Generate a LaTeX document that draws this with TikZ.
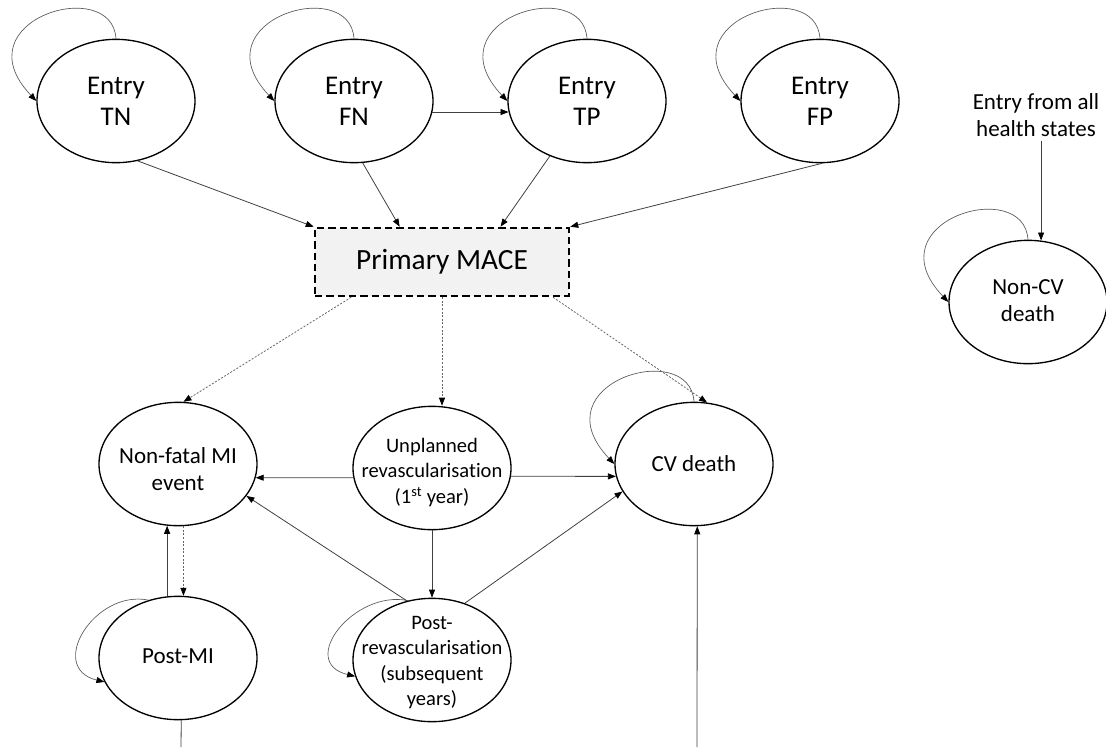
\documentclass[tikz,border=0pt]{standalone}
\usepackage{fontspec}
\setmainfont{Carlito}[Ligatures=NoCommon]
\usetikzlibrary{arrows.meta}
\usetikzlibrary{shapes.geometric}
\usetikzlibrary{calc}

\definecolor{macefill}{RGB}{242,242,242}
\tikzset{
  hstate/.style={ellipse, draw=black, line width=1pt, minimum width=118.5pt, minimum height=92.5pt, inner sep=0pt},
  entrytext/.style={align=center, inner sep=0pt, font=\fontsize{20.25}{23.25}\selectfont},
  midtext/.style={align=center, inner sep=0pt, font=\fontsize{17.25}{20.25}\selectfont},
  smalltext/.style={align=center, inner sep=0pt, font=\fontsize{15.4}{19.1}\selectfont},
  macebox/.style={draw=black, line width=1.9pt, dash pattern=on 5.5pt off 3pt, fill=macefill, minimum width=190.5pt, minimum height=51pt, font=\fontsize{22}{26}\selectfont},
  link/.style={draw=black!75, line width=0.6pt},
  conn/.style={link, -{Triangle[length=6pt,width=4.5pt,color=black]}},
  dotconn/.style={conn, draw=black!60, dash pattern=on 1.5pt off 1.2pt},
  selfloop/.style={conn, draw=black!65, line width=0.5pt}
}

\begin{document}
\begin{tikzpicture}[x=0.75pt,y=0.75pt,yscale=-1,xscale=1]
\useasboundingbox (0,0) rectangle (1106,747);

%Shape: Ellipse [entry states]
\node[hstate] (tn) at (116,101) {};
\node[hstate] (fn) at (354,101) {};
\node[hstate] (tp) at (587,101) {};
\node[hstate] (fp) at (820,101) {};
%Shape: Rectangle [primary MACE]
\node[macebox] (mace) at (442,262) {Primary MACE};
%Shape: Ellipse [event states]
\node[hstate] (nfmi) at (178,464) {};
\node[hstate] (urev) at (432,468) {};
\node[hstate] (cv) at (694,464) {};
\node[hstate] (pmi) at (178,658) {};
\node[hstate] (prev) at (432,660) {};
\node[hstate] (ncv) at (1028,302) {};

% Text Node
\node[entrytext] (tn-t) at (tn) {Entry\\TN};
\node[entrytext] (fn-t) at (fn) {Entry\\FN};
\node[entrytext] (tp-t) at (tp) {Entry\\TP};
\node[entrytext] (fp-t) at (fp) {Entry\\FP};
\node[midtext] (nfmi-t) at ([yshift=3.5pt]nfmi) {Non-fatal MI\\event};
\node[smalltext] (urev-t) at ([yshift=3.2pt]urev) {Unplanned\\revascularisation\\(1\textsuperscript{st} year)};
\node[midtext] (cv-t) at (cv) {CV death};
\node[midtext] (pmi-t) at ([yshift=-1pt]pmi) {Post-MI};
\node[smalltext] (prev-t) at ([yshift=2pt]prev) {Post-\\revascularisation\\(subsequent\\years)};
\node[midtext] (ncv-t) at ([yshift=-1pt]ncv) {Non-CV\\death};
\node[midtext, inner sep=3pt] (entryall) at (1036,115) {Entry from all\\health states};

% free ends below the picture
\coordinate (pmiexit) at (181,747);
\coordinate (cventry) at (697,747);

% self loops
\foreach \s in {tn,fn,tp,fp,cv,ncv}
  \draw[selfloop] (\s.north) .. controls +(-4,-64) and +(-77,-81) .. (\s.west);
\draw[selfloop] (pmi.117) .. controls +(-54,-11) and +(-58,-14) .. (pmi.198);
\draw[selfloop] (prev.112) .. controls +(-54,-11) and +(-58,-14) .. (prev.192);

% entry states to primary MACE
\draw[conn] (tn.-70) -- (mace.north west);
\draw[conn] (fn.-82) -- ($(mace.north west)!0.335!(mace.north east)$);
\draw[conn] (tp.-124) -- ($(mace.north west)!0.728!(mace.north east)$);
\draw[conn] (fp.-88) -- (mace.north east);
\draw[conn] (fn.-8) -- (tp.-172);

% primary MACE to events
\draw[dotconn] ($(mace.south west)!0.146!(mace.south east)$) -- (nfmi.85);
\draw[dotconn] (mace.south) -- (mace.south |- urev.north);
\draw[dotconn] ($(mace.south west)!0.933!(mace.south east)$) -- (cv.78);

% transitions between events
\draw[conn] (urev.187) -- (nfmi.-10);
\draw[conn] (urev.-6) -- (cv.-171);
\draw[conn] (urev.south) -- (prev.north);
\draw[conn] (prev.113) -- (nfmi.-25);
\draw[conn] (prev.60) -- (cv.201);
\draw[conn] (pmi.100) -- (nfmi.-100);
\draw[dotconn] (nfmi.-85) -- (pmi.85);
\draw[link] (pmi.-87) -- (pmiexit);
\draw[conn] (cventry) -- (cv.-87);
\draw[conn] (entryall.south -| ncv.78) -- (ncv.78);

\end{tikzpicture}
\end{document}
